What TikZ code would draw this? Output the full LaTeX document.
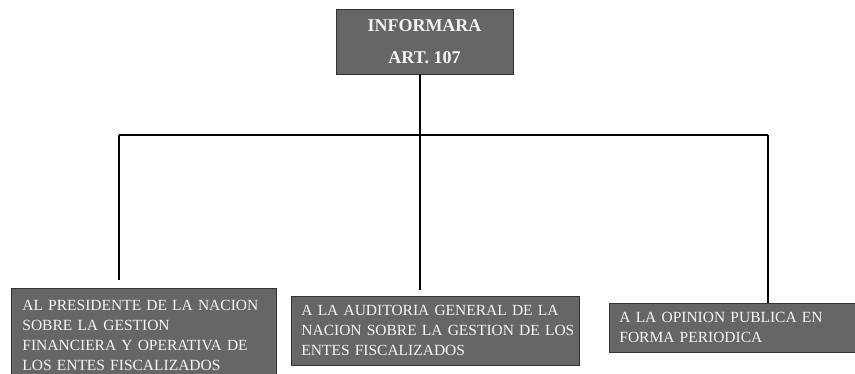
\documentclass[tikz,border=0pt]{standalone}
\usepackage{fontspec}
\setmainfont{Liberation Serif}
\begin{document}
\begin{tikzpicture}[x=1pt,y=-1pt,
  box/.style={draw=black!80,line width=0.8pt,fill=black!60,text=black!4,anchor=north west,align=left,inner xsep=10pt,inner ysep=5pt,font=\fontsize{15.5}{20}\selectfont},
  conn/.style={line width=1.2pt}]
\useasboundingbox (0,0) rectangle (855,374);
\node[draw=black!80,line width=0.8pt,fill=black!60,text=black!4,minimum width=177pt,minimum height=65pt,align=center,font=\bfseries\fontsize{18}{32}\selectfont] (top) at (424.5,41.5) {INFORMARA\\ART. 107};
\node[box,text width=243pt,minimum width=265pt,minimum height=95pt,inner xsep=11pt,inner ysep=6pt] (b1) at (11,288) {AL PRESIDENTE DE LA NACION\\SOBRE LA GESTION\\FINANCIERA Y OPERATIVA DE\\LOS ENTES FISCALIZADOS};
\node[box,text width=268pt,minimum width=288pt,minimum height=69pt] (b2) at (291,296) {A LA AUDITORIA GENERAL DE LA\\\mbox{NACION SOBRE LA GESTION DE LOS}\\ENTES FISCALIZADOS};
\node[box,text width=240pt,minimum width=260pt,minimum height=49pt,inner ysep=7pt] (b3) at (609,303) {A LA OPINION PUBLICA EN\\FORMA PERIODICA};
\coordinate (j) at (420,135);
\coordinate (l) at (119,135);
\coordinate (r) at (768,135);
\coordinate (e1) at (119,280);
\coordinate (e2) at (420,290);
\draw[conn] (top.south -| j) -- (j);
\draw[conn] (l) -- (r);
\draw[conn] (l) -- (e1);
\draw[conn] (j) -- (e2);
\draw[conn] (r) -- (r |- b3.north);
\end{tikzpicture}
\end{document}
